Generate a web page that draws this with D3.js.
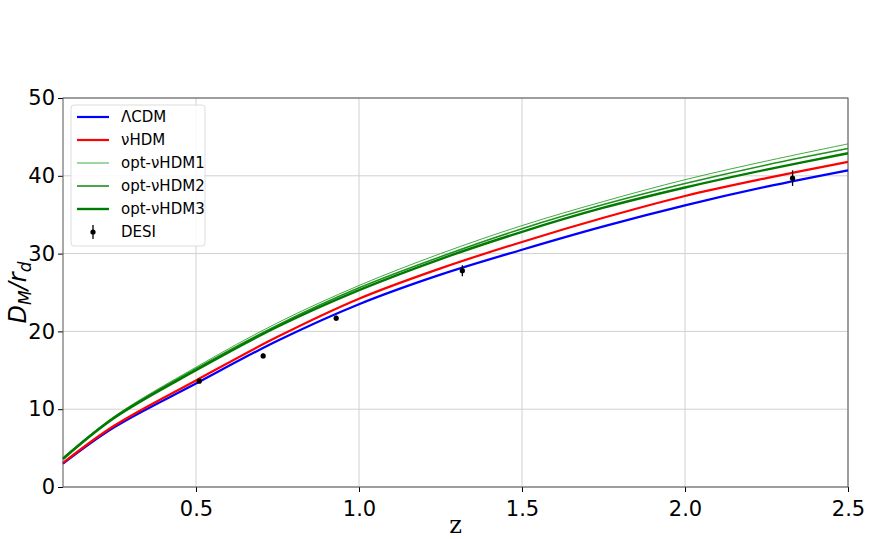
<!DOCTYPE html>
<html><head><meta charset="utf-8">
<script src="https://cdn.jsdelivr.net/npm/d3@7"></script>
<style>body{margin:0;background:#fff}text{font-family:"DejaVu Sans",sans-serif}</style>
</head><body><div id="chart"></div>
<script>
// Model curves
const zGrid = [0.092, 0.25, 0.5, 0.75, 1.0, 1.25, 1.5, 1.75, 2.0, 2.25, 2.5];
const lcdm  = [3.0, 7.7, 13.3, 18.8, 23.5, 27.3, 30.5, 33.5, 36.2, 38.6, 40.7];
const vhdm  = [3.1, 7.9, 13.7, 19.3, 24.2, 28.1, 31.5, 34.6, 37.4, 39.7, 41.8];
const opt1  = [3.8, 9.1, 15.4, 21.1, 25.9, 30.0, 33.6, 36.7, 39.5, 41.9, 44.1];
const opt2  = [3.7, 9.0, 15.2, 20.8, 25.6, 29.6, 33.2, 36.3, 39.0, 41.4, 43.5];
const opt3  = [3.6, 8.9, 15.0, 20.6, 25.3, 29.3, 32.8, 35.9, 38.5, 40.8, 42.9];
const desiZ = [0.51, 0.706, 0.93, 1.317, 2.33];
const desiV = [13.6, 16.85, 21.7, 27.8, 39.7];
const desiE = [0.2, 0.3, 0.3, 0.7, 1.0];

const series = [
  {name: "ΛCDM", vals: lcdm, color: "#0000ff", w: 2.2},
  {name: "νHDM", vals: vhdm, color: "#ff0000", w: 2.2},
  {name: "opt-νHDM1", vals: opt1, color: "#2ca02c", w: 0.9, lc: "#3a9a3a"},
  {name: "opt-νHDM2", vals: opt2, color: "#1f8f1f", w: 1.6},
  {name: "opt-νHDM3", vals: opt3, color: "#007a00", w: 2.4}
];

const W = 871, H = 539;
const m = {top: 98, right: 23, bottom: 52, left: 63};
const iw = W - m.left - m.right, ih = H - m.top - m.bottom;

const svg = d3.select("#chart").append("svg").attr("width", W).attr("height", H);
const g = svg.append("g").attr("transform", `translate(${m.left},${m.top})`);

const x = d3.scaleLinear().domain([0.092, 2.5]).range([0, iw]);
const y = d3.scaleLinear().domain([0, 50]).range([ih, 0]);

// grid
const xt = [0.5, 1.0, 1.5, 2.0, 2.5], yt = [0, 10, 20, 30, 40, 50];
g.selectAll(".gx").data(xt).enter().append("line")
  .attr("x1", d => x(d)).attr("x2", d => x(d)).attr("y1", 0).attr("y2", ih)
  .attr("stroke", "#d0d0d0");
g.selectAll(".gy").data(yt).enter().append("line")
  .attr("x1", 0).attr("x2", iw).attr("y1", d => y(d)).attr("y2", d => y(d))
  .attr("stroke", "#d0d0d0");

// axes
const xa = g.append("g").attr("transform", `translate(0,${ih})`)
  .call(d3.axisBottom(x).tickValues(xt).tickFormat(d3.format(".1f")).tickSize(5));
const ya = g.append("g").call(d3.axisLeft(y).tickValues(yt).tickSize(5));
[xa, ya].forEach(a => { a.selectAll("text").attr("font-size", 21).attr("fill", "#000"); a.select(".domain").remove(); });
xa.selectAll("text").attr("dy", "1.0em");
g.append("rect").attr("width", iw).attr("height", ih).attr("fill", "none").attr("stroke", "#555");

// curves
const line = d3.line().x(d => x(d[0])).y(d => y(d[1])).curve(d3.curveCatmullRom);
series.forEach(s => {
  g.append("path").datum(zGrid.map((z, i) => [z, s.vals[i]]))
    .attr("d", line).attr("fill", "none").attr("stroke", s.color).attr("stroke-width", s.w);
});

// DESI points
desiZ.forEach((z, i) => {
  g.append("line").attr("x1", x(z)).attr("x2", x(z))
    .attr("y1", y(desiV[i] - desiE[i])).attr("y2", y(desiV[i] + desiE[i])).attr("stroke", "#000").attr("stroke-width", 1.3);
  g.append("circle").attr("cx", x(z)).attr("cy", y(desiV[i])).attr("r", 2.6).attr("fill", "#000");
});

// labels
svg.append("text").attr("x", m.left + iw / 2).attr("y", 533).attr("text-anchor", "middle")
  .attr("font-size", 24).style("font-family", "'DejaVu Serif',serif").text("z");
const yl = svg.append("text").attr("transform", `translate(26,${m.top + ih / 2}) rotate(-90)`)
  .attr("text-anchor", "middle").attr("font-size", 24).attr("font-style", "italic");
yl.append("tspan").text("D");
yl.append("tspan").attr("font-size", 17).attr("dy", 5).text("M");
yl.append("tspan").attr("dy", -5).text("/r");
yl.append("tspan").attr("font-size", 17).attr("dy", 5).text("d");

// legend
const lg = g.append("g").attr("transform", "translate(8,7)");
lg.append("rect").attr("width", 134).attr("height", 141).attr("rx", 3)
  .attr("fill", "#fff").attr("fill-opacity", 0.85).attr("stroke", "#ddd");
series.forEach((s, i) => {
  const yy = 12 + i * 23;
  lg.append("line").attr("x1", 6).attr("x2", 38).attr("y1", yy).attr("y2", yy)
    .attr("stroke", s.color).attr("stroke-width", s.w);
  lg.append("text").attr("x", 50).attr("y", yy).attr("dy", "0.35em").attr("font-size", 15).text(s.name);
});
const dy = 12 + 5 * 23;
lg.append("line").attr("x1", 22).attr("x2", 22).attr("y1", dy - 7).attr("y2", dy + 7).attr("stroke", "#000").attr("stroke-width", 1.3);
lg.append("circle").attr("cx", 22).attr("cy", dy).attr("r", 2.6);
lg.append("text").attr("x", 50).attr("y", dy).attr("dy", "0.35em").attr("font-size", 15).text("DESI");
</script></body></html>
